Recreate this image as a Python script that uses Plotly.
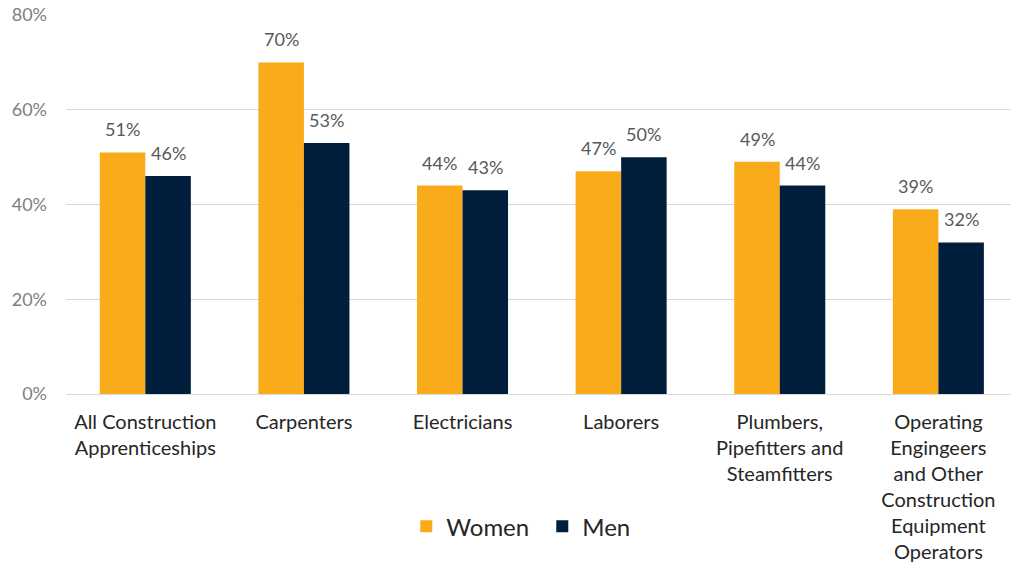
import plotly.graph_objects as go

categories = [
    "All Construction<br>Apprenticeships",
    "Carpenters",
    "Electricians",
    "Laborers",
    "Plumbers,<br>Pipefitters and<br>Steamfitters",
    "Operating<br>Engingeers<br>and Other<br>Construction<br>Equipment<br>Operators",
]
women = [51, 70, 44, 47, 49, 39]
men = [46, 53, 43, 50, 44, 32]
tick_vals = [0, 20, 40, 60, 80]
tick_text = [f"{v}%" for v in tick_vals]

WOMEN_COLOR = "#FAAB1A"
MEN_COLOR = "#011E3D"
FONT = "Lato"

fig = go.Figure()
fig.add_trace(go.Bar(x=categories, y=women, name="Women",
                     marker=dict(color=WOMEN_COLOR, line=dict(width=0))))
fig.add_trace(go.Bar(x=categories, y=men, name="Men",
                     marker=dict(color=MEN_COLOR, line=dict(width=0))))

annotations = []
for series, shift in ((women, -22.7), (men, 22.7)):
    for c, v in zip(categories, series):
        annotations.append(dict(
            x=c, y=v, xref="x", yref="y", text=f"{v}%", showarrow=False,
            xshift=shift, yshift=10, yanchor="bottom",
            font=dict(family=FONT, size=18, color="#595959"),
        ))

fig.update_layout(
    width=1011, height=564,
    margin=dict(l=66, r=0, t=15, b=170),
    paper_bgcolor="white", plot_bgcolor="white",
    barmode="group", bargap=0.426, bargroupgap=0,
    font=dict(family=FONT, color="#404040"),
    showlegend=True,
    legend=dict(orientation="h", x=0.504, xanchor="center", y=-0.35, yanchor="middle",
                font=dict(family=FONT, size=24, color="#262626"),
                itemwidth=30, traceorder="normal", entrywidth=91),
    annotations=annotations,
)
fig.update_xaxes(
    range=[-0.5, 5.458],
    tickfont=dict(family=FONT, size=20, color="#262626"),
    showgrid=False, showline=True, linecolor="#D9D9D9", linewidth=1,
    ticks="", automargin=False, ticklabelstandoff=10,
)
fig.update_yaxes(
    range=[0, 80], tickvals=tick_vals, ticktext=tick_text,
    tickfont=dict(family=FONT, size=18, color="#7F7F7F"),
    showgrid=True, gridcolor="#D9D9D9", gridwidth=1,
    zeroline=False, showline=False, ticks="", automargin=False,
    ticklabelstandoff=18,
)

fig.write_html("out.html")
